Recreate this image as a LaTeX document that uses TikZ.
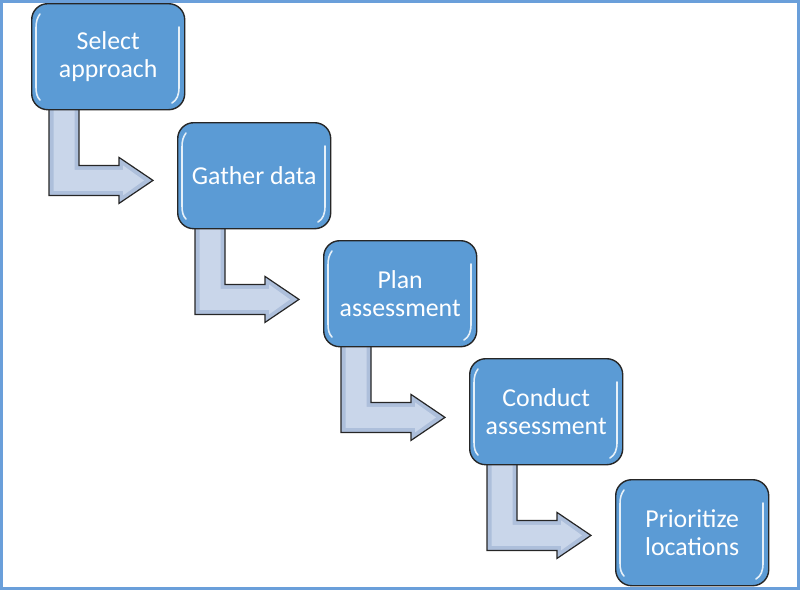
\documentclass[tikz,border=0pt]{standalone}
\usepackage{fontspec}
\setmainfont{Carlito}
\usetikzlibrary{backgrounds}
\definecolor{boxblue}{HTML}{5B9BD5}
\definecolor{frameblue}{HTML}{6A9FDA}
\definecolor{arrowedge}{HTML}{ADBFDB}
\definecolor{arrowmid}{HTML}{C9D6EA}
\definecolor{outlinecol}{HTML}{262626}
\begin{document}
\begin{tikzpicture}[x=1pt,y=-1pt,
  stepbox/.style={draw=outlinecol, line width=1.4pt, fill=boxblue, rounded corners=16pt,
    minimum width=153pt, minimum height=106pt, anchor=north west, align=center,
    text=white, font=\fontsize{25.8}{28}\selectfont, inner sep=0pt},
  glint/.style={white, line width=1.6pt, opacity=0.85, line cap=round},
  arrowbody/.style={draw=outlinecol, line width=1.2pt, fill=arrowedge, line join=miter},
  arrowcore/.style={fill=arrowmid}
]
\useasboundingbox (0,0) rectangle (800,590);
\draw[frameblue, line width=3pt] (1.2,1.2) rectangle (798.3,588.5);

\node[stepbox] (b1) at (31,3) {Select\\approach};
\node[stepbox] (b2) at (177,122) {Gather data};
\node[stepbox] (b3) at (323,240) {Plan\\assessment};
\node[stepbox] (b4) at (469,358) {Conduct\\assessment};
\node[stepbox] (b5) at (615,479) {Prioritize\\locations};

\foreach \i in {1,...,4}{
  \begin{scope}[on background layer, shift={(b\i.south west)}]
    \draw[arrowbody] (18,-3) -- (18,85) -- (88,85) -- (88,93) -- (122,70) -- (88,47) -- (88,55) -- (48,55) -- (48,-3) -- cycle;
    \fill[arrowcore] (22.5,-3) -- (22.5,80.5) -- (92,80.5) -- (92,85) -- (113,70) -- (92,55) -- (92,59.5) -- (43.5,59.5) -- (43.5,-3) -- cycle;
  \end{scope}
}

\foreach \i in {1,...,5}{
  \begin{scope}[shift={(b\i.north west)}]
    \draw[glint] (9,11) .. controls (6,15) and (5,19) .. (5,25) -- (5,84) .. controls (5,90) and (6,94) .. (9,97);
    \draw[glint] (148,24) -- (148,84) .. controls (148,92) and (146,97) .. (141,100);
  \end{scope}
}
\end{tikzpicture}
\end{document}
